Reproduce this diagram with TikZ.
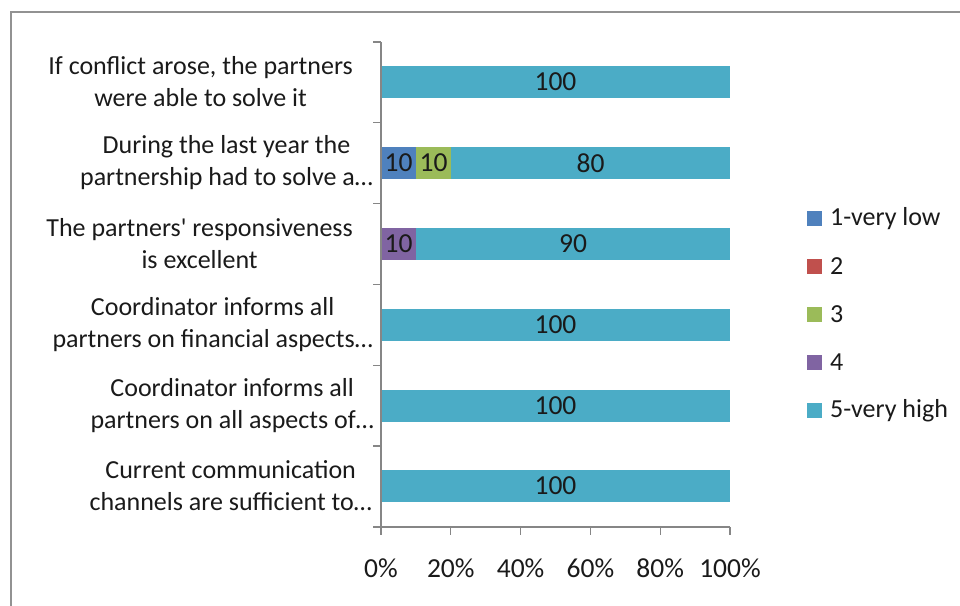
\documentclass[tikz,border=0pt]{standalone}
\usepackage{fontspec}
\setmainfont{Carlito}
\definecolor{cA}{HTML}{4F81BD}
\definecolor{cB}{HTML}{C0504D}
\definecolor{cC}{HTML}{9BBB59}
\definecolor{cD}{HTML}{8064A2}
\definecolor{cE}{HTML}{4BACC6}
\definecolor{axisgray}{HTML}{868686}
\definecolor{txt}{HTML}{1A1A1A}
\tikzset{
  cat/.style={anchor=east, align=center, font=\fontsize{26}{32}\selectfont, text=txt, inner sep=0pt},
  val/.style={font=\fontsize{27.5}{30}\selectfont, text=txt, inner sep=0pt},
  tick/.style={font=\fontsize{27.5}{30}\selectfont, text=txt, inner sep=0pt},
  leg/.style={anchor=west, font=\fontsize{26}{30}\selectfont, text=txt, inner sep=0pt},
  ax/.style={draw=axisgray, line width=1.2pt},
}
\begin{document}
\begin{tikzpicture}[x=1pt,y=-1pt]
\useasboundingbox (0,0) rectangle (960,605);
% frame
\draw[draw=axisgray!90, line width=2pt] (11,606) -- (11,12) -- (961,12);
% bars
\fill[cE] (381,66) rectangle (730,98);
\fill[cA] (381,147) rectangle (416,179);
\fill[cC] (416,147) rectangle (451,179);
\fill[cE] (451,147) rectangle (730,179);
\fill[cD] (381,228) rectangle (416,260);
\fill[cE] (416,228) rectangle (730,260);
\fill[cE] (381,309) rectangle (730,341);
\fill[cE] (381,390) rectangle (730,422);
\fill[cE] (381,470) rectangle (730,502);
% axes
\draw[ax] (381,42) -- (381,527) -- (730,527);
\foreach \y in {42,122.8,203.6,284.4,365.2,446,527} \draw[ax] (373,\y) -- (381,\y);
\foreach \x in {381,450.8,520.6,590.4,660.2,730} \draw[ax] (\x,527) -- (\x,535);
% value labels
\node[val] (v1) at (555.5,82) {100};
\node[val] (v2a) at (398.5,163) {10};
\node[val] (v2b) at (433.5,163) {10};
\node[val] (v2c) at (590.5,163) {80};
\node[val] (v3a) at (398.5,244) {10};
\node[val] (v3b) at (573,244) {90};
\node[val] (v4) at (555.5,325) {100};
\node[val] (v5) at (555.5,406) {100};
\node[val] (v6) at (555.5,486) {100};
% category labels
\node[cat] (c1) at (353,82) {If conflict arose, the partners\\were able to solve it};
\node[cat] (c2) at (373,163) {During the last year the\\partnership had to solve a…};
\node[cat] (c3) at (353,244) {The partners\textquotesingle{} responsiveness\\is excellent};
\node[cat] (c4) at (373,325) {Coordinator informs all\\partners on financial aspects…};
\node[cat] (c5) at (374,406) {Coordinator informs all\\partners on all aspects of…};
\node[cat] (c6) at (372,486) {Current communication\\channels are sufficient to…};
% x tick labels
\node[tick] (t0) at (381,568) {0\%};
\node[tick] (t1) at (450.8,568) {20\%};
\node[tick] (t2) at (520.6,568) {40\%};
\node[tick] (t3) at (590.4,568) {60\%};
\node[tick] (t4) at (660.2,568) {80\%};
\node[tick] (t5) at (730,568) {100\%};
% legend
\fill[cA] (807,211) rectangle (822,226);
\fill[cB] (807,259) rectangle (822,274);
\fill[cC] (807,307) rectangle (822,322);
\fill[cD] (807,355) rectangle (822,370);
\fill[cE] (807,403) rectangle (822,418);
\node[leg] (l1) at (830,218.5) {1-very low};
\node[leg] (l2) at (830,266.5) {2};
\node[leg] (l3) at (830,314.5) {3};
\node[leg] (l4) at (830,362.5) {4};
\node[leg] (l5) at (830,410.5) {5-very high};
\end{tikzpicture}
\end{document}
